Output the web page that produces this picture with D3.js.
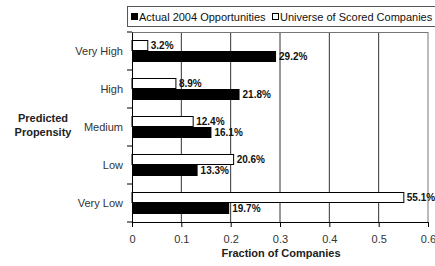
<!DOCTYPE html>
<html><head><meta charset="utf-8">
<script src="https://cdn.jsdelivr.net/npm/d3@7"></script>
<style>body{margin:0;background:#fff}svg{display:block;font-family:"Liberation Sans",Arial,sans-serif}</style>
</head><body><svg id="c" width="435" height="266"></svg>
<script>
const categories = ["Very High","High","Medium","Low","Very Low"];
const universe = [3.2, 8.9, 12.4, 20.6, 55.1];
const actual = [29.2, 21.8, 16.1, 13.3, 19.7];
const xTicks = [0,0.1,0.2,0.3,0.4,0.5,0.6];
const seriesNames = ["Actual 2004 Opportunities","Universe of Scored Companies"];

const svg = d3.select("#c");
const L=132,R=428,T=32,B=222;
const x = d3.scaleLinear().domain([0,0.6]).range([L,R]);
const y = d3.scaleBand().domain(categories).range([T,B]);
const inner = d3.scaleBand().domain(["u","a"]).range([0,22]);

// gridlines
svg.append("g").selectAll("line").data(xTicks.slice(1)).join("line")
  .attr("x1",d=>x(d)).attr("x2",d=>x(d)).attr("y1",T).attr("y2",B)
  .attr("stroke",d=>d===0.6?"#777":"#333").attr("stroke-width",1);
svg.append("line").attr("x1",L).attr("x2",R).attr("y1",T+0.5).attr("y2",T+0.5).attr("stroke","#777");

const bh = inner.bandwidth();
categories.forEach((c,i)=>{
  const y0 = y(c) + (y.bandwidth()-22)/2;
  svg.append("rect").attr("x",x(0)).attr("y",y0+inner("u")+0.5).attr("width",x(universe[i]/100)-x(0)).attr("height",bh-1)
    .attr("fill","#fff").attr("stroke","#000").attr("stroke-width",1);
  svg.append("rect").attr("x",x(0)).attr("y",y0+inner("a")).attr("width",x(actual[i]/100)-x(0)).attr("height",bh)
    .attr("fill","#000");
  svg.append("text").attr("x",x(universe[i]/100)+3).attr("y",y0+inner("u")+bh/2).attr("dy","0.35em")
    .attr("font-size",10).attr("font-weight","bold").attr("fill","#111").text(universe[i].toFixed(1)+"%");
  svg.append("text").attr("x",x(actual[i]/100)+3).attr("y",y0+inner("a")+bh/2).attr("dy","0.35em")
    .attr("font-size",10).attr("font-weight","bold").attr("fill","#111").text(actual[i].toFixed(1)+"%");
});

// axes
const xa = svg.append("g").attr("transform",`translate(0,${B})`)
  .call(d3.axisBottom(x).tickValues(xTicks).tickFormat(d=>d===0?"0":d3.format(".1f")(d)).tickSize(5).tickPadding(8));
xa.select(".domain").attr("stroke","#000");
xa.selectAll("text").attr("font-size",11).attr("fill","#333").attr("font-family","Liberation Sans, Arial");
const ya = svg.append("g").attr("transform",`translate(${L},0)`)
  .call(d3.axisLeft(y).tickSize(0).tickPadding(9));
ya.select(".domain").attr("stroke","#000");
ya.selectAll("text").attr("font-size",11).attr("fill","#333").attr("font-family","Liberation Sans, Arial");
svg.append("g").selectAll("line").data(d3.range(categories.length+1)).join("line")
  .attr("x1",L-5).attr("x2",L).attr("y1",i=>T+i*y.step()).attr("y2",i=>T+i*y.step()).attr("stroke","#000");

svg.append("text").attr("x",281).attr("y",257).attr("text-anchor","middle").attr("font-size",11)
  .attr("font-weight","bold").attr("fill","#222").text("Fraction of Companies");
svg.append("text").attr("x",43).attr("y",122).attr("text-anchor","middle").attr("font-size",11)
  .attr("font-weight","bold").attr("fill","#222").text("Predicted");
svg.append("text").attr("x",43).attr("y",136).attr("text-anchor","middle").attr("font-size",11)
  .attr("font-weight","bold").attr("fill","#222").text("Propensity");

// legend
svg.append("rect").attr("x",127.5).attr("y",6.5).attr("width",310).attr("height",20).attr("fill","#fff").attr("stroke","#555");
svg.append("rect").attr("x",131).attr("y",13).attr("width",7).attr("height",7).attr("fill","#000");
svg.append("text").attr("x",139).attr("y",20.5).attr("font-size",11).attr("fill","#111").text(seriesNames[0]);
svg.append("rect").attr("x",272.5).attr("y",13.5).attr("width",6).attr("height",6).attr("fill","#fff").attr("stroke","#000");
svg.append("text").attr("x",280).attr("y",20.5).attr("font-size",11).attr("fill","#111").text(seriesNames[1]);
</script></body></html>
